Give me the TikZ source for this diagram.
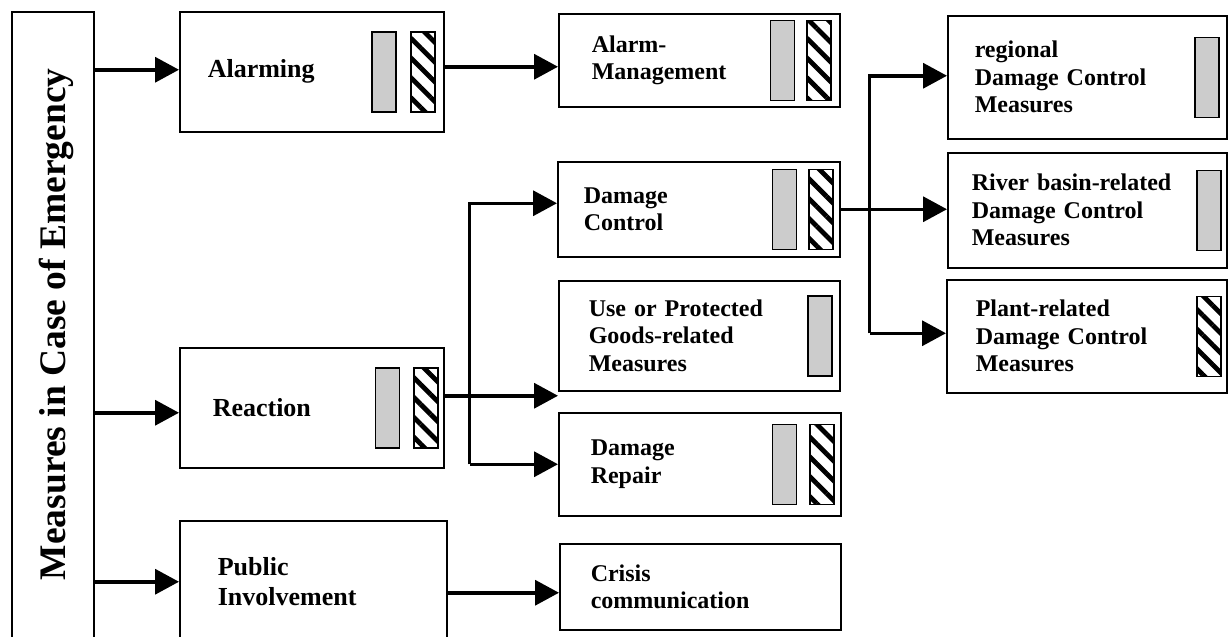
\documentclass[tikz,border=0pt]{standalone}
\usepackage{fontspec}
\setmainfont{Liberation Serif}
\usetikzlibrary{arrows.meta, positioning, patterns.meta}

\begin{document}
\begin{tikzpicture}[
    x=0.5pt, y=-0.5pt,
    box/.style={rectangle, draw, line width=0.75pt, anchor=north west, align=left, inner sep=0pt},
    bigtext/.style={font=\bfseries\fontsize{13}{15}\selectfont},
    graybar/.style={rectangle, draw, line width=0.75pt, fill=gray!40, minimum width=12pt, minimum height=40pt, inner sep=0pt},
    hatchbar/.style={rectangle, draw, line width=0.75pt, minimum width=12pt, minimum height=40pt, inner sep=0pt,
        pattern={Lines[angle=-45, distance=7pt, line width=2.4pt]}},
    arrow/.style={-{Triangle[length=12pt, width=12.5pt]}, line width=1.75pt},
    font=\bfseries\fontsize{12}{13.75}\selectfont
]

\path[use as bounding box, clip] (0,0) rectangle (1228,637);

% Left column
\node[box, minimum width=41pt, minimum height=315.5pt] (emerg) at (11,11) {};
\node[rotate=90, font=\bfseries\fontsize{18.75}{20}\selectfont] (emergtitle) at ([xshift=2pt, yshift=1.5pt]emerg.center) {Measures in Case of Emergency};

% Second column
\node[box, bigtext, minimum width=132pt, minimum height=60pt, text width=104pt] (alarm) at (179,11) {Alarming};
\node[hatchbar, left=3.5pt of alarm.east] (alarmh) {};
\node[graybar, left=6pt of alarmh] (alarmg) {};

\node[box, bigtext, minimum width=132pt, minimum height=60pt, text width=99pt] (reaction) at (179,347) {Reaction};
\node[hatchbar, left=3pt of reaction.east] (reactionh) {};
\node[graybar, left=6.5pt of reactionh] (reactiong) {};

\node[box, bigtext, minimum width=133.5pt, minimum height=61pt, text width=95.5pt] (public) at (179,520) {Public\\Involvement};

% Third column
\node[box, minimum width=140.5pt, minimum height=46.5pt, text width=107.5pt] (alarmmgmt) at (558,13) {Alarm-\\Management};
\node[hatchbar, left=4.5pt of alarmmgmt.east] (alarmmgmth) {};
\node[graybar, left=5.5pt of alarmmgmth] (alarmmgmtg) {};

\node[box, minimum width=141pt, minimum height=47.5pt, text width=115pt] (dmgctrl) at (557,161) {Damage\\Control};
\node[hatchbar, left=3.5pt of dmgctrl.east] (dmgctrlh) {};
\node[graybar, left=5.5pt of dmgctrlh] (dmgctrlg) {};

\node[box, minimum width=140.5pt, minimum height=55pt, text width=110.5pt] (usegoods) at (558,280) {Use or Protected\\Goods-related\\Measures};
\node[graybar, left=4pt of usegoods.east] (usegoodsg) {};

\node[box, minimum width=141pt, minimum height=51.5pt, text width=109pt] (dmgrepair) at (558,412) {Damage\\Repair};
\node[hatchbar, left=3.5pt of dmgrepair.east] (dmgrepairh) {};
\node[graybar, left=6pt of dmgrepairh] (dmgrepairg) {};

\node[box, minimum width=140.5pt, minimum height=43pt, text width=109.5pt] (crisis) at (559,543) {Crisis\\communication};

% Right column
\node[box, minimum width=139.5pt, minimum height=61.5pt, text width=112.5pt] (regional) at (947,15) {regional\\Damage Control\\Measures};
\node[graybar, left=4pt of regional.east] (regionalg) {};

\node[box, minimum width=139.5pt, minimum height=57.5pt, text width=115.5pt] (riverbasin) at (947,152) {River basin-related\\Damage Control\\Measures};
\node[graybar, left=3pt of riverbasin.east] (riverbasing) {};

\node[box, minimum width=140pt, minimum height=56.5pt, text width=111pt] (plant) at (946,279) {Plant-related\\Damage Control\\Measures};
\node[hatchbar, left=3pt of plant.east] (planth) {};

% Left box to second column
\draw[arrow] ([yshift=1pt]alarm.west -| emerg.east) -- ([yshift=1pt]alarm.west);
\draw[arrow] ([yshift=-2.5pt]reaction.west -| emerg.east) -- ([yshift=-2.5pt]reaction.west);
\draw[arrow] (public.west -| emerg.east) -- (public.west);

% Alarming to Alarm-Management
\draw[arrow] ([yshift=2.5pt]alarm.east) -- ([yshift=2.5pt]alarm.east -| alarmmgmt.west);

% Reaction branches
\coordinate (rfork) at ([xshift=12.5pt]reaction.east);
\draw[arrow] ([yshift=6pt]reaction.east) -- ([yshift=6pt]reaction.east -| usegoods.west);
\draw[arrow] (rfork |- dmgrepair.west) |- ([yshift=3pt]dmgctrl.west);
\draw[arrow] (rfork |- dmgrepair.west) -- (dmgrepair.west);

% Public Involvement to Crisis communication
\draw[arrow] ([yshift=-3pt]crisis.west -| public.east) -- ([yshift=-3pt]crisis.west);

% Damage Control branches
\coordinate (dfork) at ([xshift=14.5pt]dmgctrl.east);
\draw[arrow] (dmgctrl.east) -- (dmgctrl.east -| riverbasin.west);
\draw[arrow] ([yshift=1.5pt]dfork |- plant.west) |- ([yshift=0.75pt]regional.west);
\draw[arrow] ([yshift=1.5pt]dfork |- plant.west) -- ([yshift=1.5pt]plant.west);

\end{tikzpicture}
\end{document}
